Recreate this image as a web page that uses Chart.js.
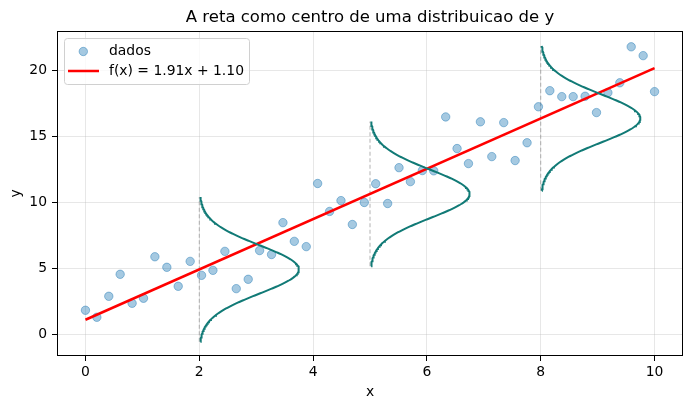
<!DOCTYPE html>
<html><head><meta charset="utf-8">
<script src="https://cdn.jsdelivr.net/npm/chart.js@4/dist/chart.umd.min.js"></script>
<style>html,body{margin:0;padding:0;background:#fff}#wrap{width:690px;height:409px}</style>
</head><body><div id="wrap"><canvas id="c" width="690" height="409"></canvas></div>
<script>
const titleText = 'A reta como centro de uma distribuicao de y';
const xLabel = 'x';
const yLabel = 'y';
const xTicks = [0, 2, 4, 6, 8, 10];
const yTicks = [0, 5, 10, 15, 20];
const pointLabel = 'dados';
const lineLabel = 'f(x) = 1.91x + 1.10';

const dataX = [0, 0.20, 0.41, 0.61, 0.82, 1.02, 1.22, 1.43, 1.63, 1.84,
  2.04, 2.24, 2.45, 2.65, 2.86, 3.06, 3.27, 3.47, 3.67, 3.88,
  4.08, 4.29, 4.49, 4.69, 4.90, 5.10, 5.31, 5.51, 5.71, 5.92,
  6.12, 6.33, 6.53, 6.73, 6.94, 7.14, 7.35, 7.55, 7.76, 7.96,
  8.16, 8.37, 8.57, 8.78, 8.98, 9.18, 9.39, 9.59, 9.80, 10.0];
const dataY = [1.82, 1.29, 2.88, 4.55, 2.35, 2.73, 5.88, 5.08, 3.64, 5.53,
  4.47, 4.85, 6.29, 3.46, 4.17, 6.35, 6.05, 8.47, 7.05, 6.65,
  11.44, 9.32, 10.14, 8.33, 10.00, 11.42, 9.92, 12.64, 11.58, 12.42,
  12.40, 16.49, 14.09, 12.95, 16.12, 13.48, 16.06, 13.18, 14.53, 17.26,
  18.48, 18.03, 18.03, 18.06, 16.82, 18.33, 19.08, 21.81, 21.14, 18.41];

const slope = 1.91;
const intercept = 1.10;
const lineX = [0, 10];

const gaussCenters = [2, 5, 8];
const gaussSigma = 1.83;
const gaussWidth = 1.75;
const gaussSpan = 3;

const FONT = 'DejaVu Sans';
const teal = '#117a76';

const scatterPts = dataX.map((x, i) => ({x: x, y: dataY[i]}));
const linePts = lineX.map(x => ({x: x, y: slope * x + intercept}));

const datasets = [];
gaussCenters.forEach(c => {
  const mu = slope * c + intercept;
  const lo = mu - gaussSpan * gaussSigma, hi = mu + gaussSpan * gaussSigma;
  const pts = [];
  const n = 200;
  for (let k = 0; k <= n; k++) {
    const y = lo + (hi - lo) * k / n;
    const z = (y - mu) / gaussSigma;
    pts.push({x: c + gaussWidth * Math.exp(-0.5 * z * z), y: y});
  }
  datasets.push({type: 'scatter', data: [{x: c, y: lo}, {x: c, y: hi}], showLine: true,
    borderColor: 'rgba(128,128,128,0.6)', borderWidth: 1, borderDash: [4, 2.5],
    pointRadius: 0, order: 4});
  datasets.push({type: 'scatter', data: pts, showLine: true, borderColor: teal,
    borderWidth: 2, pointRadius: 0, order: 0, tension: 0});
});
datasets.push({type: 'scatter', label: pointLabel, data: scatterPts,
  backgroundColor: 'rgba(31,119,180,0.4)', borderColor: 'rgba(31,119,180,0.45)',
  borderWidth: 1, pointRadius: 4.2, order: 2});
datasets.push({type: 'scatter', label: lineLabel, data: linePts, showLine: true,
  borderColor: '#ff0000', borderWidth: 2.5, pointRadius: 0, order: 1});

const decor = {
  id: 'decor',
  afterDraw(chart) {
    const ctx = chart.ctx, a = chart.chartArea;
    ctx.save();
    // frame
    ctx.strokeStyle = '#000'; ctx.lineWidth = 1;
    ctx.strokeRect(Math.round(a.left) + 0.5, Math.round(a.top) + 0.5,
      Math.round(a.right - a.left) - 1, Math.round(a.bottom - a.top) - 1);
    // title
    ctx.fillStyle = '#000';
    ctx.font = '16.5px "' + FONT + '"';
    ctx.textAlign = 'center'; ctx.textBaseline = 'middle';
    ctx.fillText(titleText, (a.left + a.right) / 2, 17.5);
    // legend
    const bx = 64.5, by = 38.5, bw = 185, bh = 46, r = 3;
    ctx.beginPath();
    ctx.moveTo(bx + r, by); ctx.lineTo(bx + bw - r, by); ctx.quadraticCurveTo(bx + bw, by, bx + bw, by + r);
    ctx.lineTo(bx + bw, by + bh - r); ctx.quadraticCurveTo(bx + bw, by + bh, bx + bw - r, by + bh);
    ctx.lineTo(bx + r, by + bh); ctx.quadraticCurveTo(bx, by + bh, bx, by + bh - r);
    ctx.lineTo(bx, by + r); ctx.quadraticCurveTo(bx, by, bx + r, by);
    ctx.closePath();
    ctx.fillStyle = 'rgba(255,255,255,0.8)'; ctx.fill();
    ctx.strokeStyle = '#d0d0d0'; ctx.lineWidth = 1; ctx.stroke();
    ctx.beginPath(); ctx.arc(83.3, 51.5, 4.2, 0, Math.PI * 2);
    ctx.fillStyle = 'rgba(31,119,180,0.4)'; ctx.fill();
    ctx.strokeStyle = 'rgba(31,119,180,0.45)'; ctx.stroke();
    ctx.beginPath(); ctx.moveTo(68, 71); ctx.lineTo(99, 71);
    ctx.strokeStyle = '#ff0000'; ctx.lineWidth = 2.5; ctx.stroke();
    ctx.fillStyle = '#000'; ctx.font = '13.9px "' + FONT + '"';
    ctx.textAlign = 'left'; ctx.textBaseline = 'middle';
    ctx.fillText(pointLabel, 109, 51);
    ctx.fillText(lineLabel, 109, 71);
    ctx.restore();
  }
};

const gridCfg = {color: 'rgba(176,176,176,0.3)', lineWidth: 1, drawTicks: true,
  tickLength: 5, tickColor: '#000', tickWidth: 1};

new Chart(document.getElementById('c'), {
  type: 'scatter',
  data: {datasets: datasets},
  options: {
    responsive: false, animation: false, devicePixelRatio: 1,
    layout: {padding: {top: 31, right: 7, left: 0, bottom: 0}},
    plugins: {legend: {display: false}, tooltip: {enabled: false}, title: {display: false}},
    scales: {
      x: {
        type: 'linear', min: -0.5, max: 10.5,
        afterBuildTicks: s => { s.ticks = xTicks.map(v => ({value: v})); },
        afterFit: s => { s.height = 53; },
        ticks: {font: {family: FONT, size: 13.9}, color: '#000', padding: 3, maxRotation: 0,
          callback: v => String(v)},
        grid: gridCfg, border: {display: false},
        title: {display: true, text: xLabel, color: '#000', font: {family: FONT, size: 13.9},
          padding: {top: 0, bottom: 8}}
      },
      y: {
        type: 'linear', min: -1.65, max: 23.01,
        afterBuildTicks: s => { s.ticks = yTicks.map(v => ({value: v})); },
        afterFit: s => { s.width = 57; },
        ticks: {font: {family: FONT, size: 13.9}, color: '#000', padding: 5,
          callback: v => String(v)},
        grid: gridCfg, border: {display: false},
        title: {display: true, text: yLabel, color: '#000', font: {family: FONT, size: 13.9},
          padding: {top: 8, bottom: 0}}
      }
    }
  },
  plugins: [decor]
});
</script></body></html>
